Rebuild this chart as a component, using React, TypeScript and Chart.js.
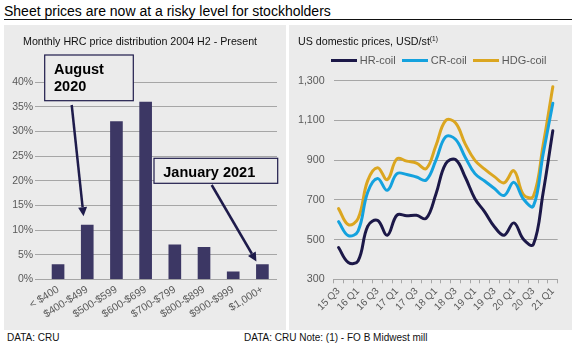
import React, { useEffect, useRef } from 'react';
import { Chart, registerables } from 'chart.js';

Chart.register(...registerables);

const FONT = '"Liberation Sans", Arial, Helvetica, sans-serif';
const TEXT_GREY = '#595959';
const GRID_GREY = '#a6a6a6';
const PANEL_BG = '#ebebeb';
const NAVY = '#1e1b4b';
const BAR_COLOR = '#3c3764';

const pageTitle = 'Sheet prices are now at a risky level for stockholders';
const leftTitle = 'Monthly HRC price distribution 2004 H2 - Present';
const rightTitle = 'US domestic prices, USD/st';
const rightTitleNote = '(1)';
const leftSource = 'DATA: CRU';
const rightSource = 'DATA: CRU Note: (1) - FO B Midwest mill';

// Left chart: share of months in each HRC price band
const priceBands = ['< $400', '$400-$499', '$500-$599', '$600-$699', '$700-$799', '$800-$899', '$900-$999', '$1,000+'];
const shareOfMonths = [3, 11, 32, 36, 7, 6.5, 1.5, 3];
const shareTicks = [0, 5, 10, 15, 20, 25, 30, 35, 40];
const calloutLabels = [['August', '2020'], ['January 2021']];
const calloutBands = [1, 7];

// Right chart: quarterly US domestic prices, USD/st
const quarters = [
  '15 Q3', '15 Q4',
  '16 Q1', '16 Q2', '16 Q3', '16 Q4',
  '17 Q1', '17 Q2', '17 Q3', '17 Q4',
  '18 Q1', '18 Q2', '18 Q3', '18 Q4',
  '19 Q1', '19 Q2', '19 Q3', '19 Q4',
  '20 Q1', '20 Q2', '20 Q3', '20 Q4',
  '21 Q1',
];
const hrCoil = [460, 385, 392, 568, 597, 522, 623, 620, 622, 607, 730, 882, 903, 815, 706, 640, 565, 522, 584, 500, 475, 735, 1048];
const crCoil = [590, 520, 543, 740, 808, 748, 832, 828, 815, 800, 900, 1018, 1005, 915, 832, 795, 757, 722, 788, 703, 668, 930, 1186];
const hdgCoil = [656, 575, 605, 798, 862, 802, 907, 895, 885, 857, 974, 1100, 1088, 982, 899, 855, 817, 786, 847, 725, 718, 975, 1270];
const priceTicks = [300, 500, 700, 900, 1100, 1300];
const seriesNames = ['HR-coil', 'CR-coil', 'HDG-coil'];
const seriesColors = ['#1c1848', '#14a2de', '#dba620'];

Chart.defaults.font.family = FONT;
Chart.defaults.color = TEXT_GREY;

function drawArrow(ctx: CanvasRenderingContext2D, x0: number, y0: number, x1: number, y1: number) {
  const ang = Math.atan2(y1 - y0, x1 - x0);
  const headLen = 9;
  const headW = 4.5;
  const bx = x1 - headLen * Math.cos(ang);
  const by = y1 - headLen * Math.sin(ang);
  ctx.beginPath();
  ctx.moveTo(x0, y0);
  ctx.lineTo(bx, by);
  ctx.stroke();
  ctx.beginPath();
  ctx.moveTo(x1, y1);
  ctx.lineTo(bx + headW * Math.sin(ang), by - headW * Math.cos(ang));
  ctx.lineTo(bx - headW * Math.sin(ang), by + headW * Math.cos(ang));
  ctx.closePath();
  ctx.fill();
}

const calloutPlugin = {
  id: 'callouts',
  afterDraw(chart: any) {
    const ctx: CanvasRenderingContext2D = chart.ctx;
    const xs = chart.scales.x;
    const ys = chart.scales.y;
    const layouts = [
      { box: [40.7, 30, 88.6, 45.7], textX: 50, baselines: [49, 65.7], from: [67.7, 80], dx: -3.7, dy: -9 },
      { box: [150, 133.3, 123.7, 25], textX: 159.3, baselines: [151.7], from: [207.7, 160], dx: -6, dy: -3 },
    ];
    ctx.save();
    layouts.forEach((l, i) => {
      const [bx, by, bw, bh] = l.box;
      ctx.fillStyle = PANEL_BG;
      ctx.fillRect(bx, by, bw, bh);
      ctx.strokeStyle = NAVY;
      ctx.lineWidth = 1.2;
      ctx.strokeRect(bx, by, bw, bh);
      ctx.fillStyle = '#000';
      ctx.font = `bold 14.5px ${FONT}`;
      ctx.textAlign = 'left';
      ctx.textBaseline = 'alphabetic';
      calloutLabels[i].forEach((t, j) => ctx.fillText(t, l.textX, l.baselines[j]));
      const band = calloutBands[i];
      const tipX = xs.getPixelForValue(band) + l.dx;
      const tipY = ys.getPixelForValue(shareOfMonths[band]) + l.dy;
      ctx.strokeStyle = NAVY;
      ctx.fillStyle = NAVY;
      ctx.lineWidth = 2.5;
      drawArrow(ctx, l.from[0], l.from[1], tipX, tipY);
    });
    ctx.restore();
  },
};

function DistributionChart() {
  const ref = useRef<HTMLCanvasElement>(null);
  useEffect(() => {
    const chart = new Chart(ref.current!, {
      type: 'bar',
      data: {
        datasets: [
          {
            data: shareOfMonths.map((v, i) => ({ x: i, y: v })),
            backgroundColor: BAR_COLOR,
            barThickness: 12,
          },
        ],
      },
      options: {
        responsive: false,
        animation: false,
        devicePixelRatio: 1,
        layout: { padding: { top: 57.3, right: 9, left: 0, bottom: 0 } },
        plugins: { legend: { display: false }, tooltip: { enabled: false } },
        scales: {
          x: {
            type: 'linear',
            min: -0.8,
            max: 7.5,
            offset: false,
            grid: { display: false, drawTicks: false },
            border: { display: false },
            afterBuildTicks: (s: any) => {
              s.ticks = priceBands.map((_, i) => ({ value: i }));
            },
            afterFit: (s: any) => {
              s.height = 50.7;
            },
            ticks: {
              autoSkip: false,
              minRotation: 32,
              maxRotation: 32,
              padding: 4,
              color: TEXT_GREY,
              font: { size: 10.5 },
              callback: (v: any) => priceBands[v] ?? '',
            },
          },
          y: {
            min: 0,
            max: 40,
            grid: { color: GRID_GREY, drawTicks: false, lineWidth: 1 },
            border: { display: false },
            afterBuildTicks: (s: any) => {
              s.ticks = shareTicks.map((v) => ({ value: v }));
            },
            afterFit: (s: any) => {
              s.width = 30.7;
            },
            ticks: {
              padding: 1.5,
              color: TEXT_GREY,
              font: { size: 10.5 },
              callback: (v: any) => `${v}%`,
            },
          },
        },
      } as any,
      plugins: [calloutPlugin],
    });
    return () => chart.destroy();
  }, []);
  return <canvas ref={ref} width={282} height={305} style={{ position: 'absolute', left: 0, top: 0, width: 282, height: 305 }} />;
}

function PriceChart() {
  const ref = useRef<HTMLCanvasElement>(null);
  useEffect(() => {
    const series = [hrCoil, crCoil, hdgCoil];
    const chart = new Chart(ref.current!, {
      type: 'line',
      data: {
        labels: quarters,
        datasets: seriesNames.map((name, i) => ({
          label: name,
          data: series[i],
          borderColor: seriesColors[i],
          backgroundColor: seriesColors[i],
          borderWidth: 3,
          pointRadius: 0,
          tension: 0.4,
          fill: false,
          borderCapStyle: 'round',
          borderJoinStyle: 'round',
        })),
      },
      options: {
        responsive: false,
        animation: false,
        devicePixelRatio: 1,
        layout: { padding: { top: 55.7, right: 14.3, left: 0, bottom: 0 } },
        plugins: { legend: { display: false }, tooltip: { enabled: false } },
        scales: {
          x: {
            offset: true,
            grid: { offset: true, drawOnChartArea: false, drawTicks: true, tickLength: 4, color: GRID_GREY },
            border: { display: true, color: GRID_GREY },
            afterFit: (s: any) => {
              s.height = 50.7;
            },
            ticks: {
              autoSkip: false,
              minRotation: 45,
              maxRotation: 45,
              padding: 2,
              color: TEXT_GREY,
              font: { size: 10 },
              callback: (_v: any, i: number) => (i % 2 === 0 ? quarters[i] : ''),
            },
          },
          y: {
            min: 300,
            max: 1300,
            grid: { color: GRID_GREY, drawTicks: false },
            border: { display: false },
            afterBuildTicks: (s: any) => {
              s.ticks = priceTicks.map((v) => ({ value: v }));
            },
            afterFit: (s: any) => {
              s.width = 44.7;
            },
            ticks: {
              padding: 9,
              color: TEXT_GREY,
              font: { size: 10.7 },
              callback: (v: any) => Number(v).toLocaleString('en-US'),
            },
          },
        },
      } as any,
    });
    return () => chart.destroy();
  }, []);
  return <canvas ref={ref} width={283} height={305} style={{ position: 'absolute', left: 0, top: 0, width: 283, height: 305 }} />;
}

export default function App() {
  const abs = (s: React.CSSProperties): React.CSSProperties => ({ position: 'absolute', lineHeight: 1, whiteSpace: 'nowrap', ...s });
  return (
    <div style={{ position: 'absolute', left: 0, top: 0, width: 572, height: 351, background: '#fff', fontFamily: FONT, overflow: 'hidden' }}>
      <div style={abs({ left: 4, top: 3.5, fontSize: 14, color: '#000' })}>{pageTitle}</div>
      <div style={abs({ left: 4, top: 19, width: 568, height: 1, background: '#111' })} />

      <div style={{ position: 'absolute', left: 4, top: 25, width: 282, height: 305, background: PANEL_BG }}>
        <DistributionChart />
        <div style={abs({ left: 19, top: 10.5, fontSize: 10.7, color: '#111' })}>{leftTitle}</div>
      </div>

      <div style={{ position: 'absolute', left: 289, top: 25, width: 283, height: 305, background: PANEL_BG }}>
        <PriceChart />
        <div style={abs({ left: 9, top: 10.5, fontSize: 10.7, color: '#111' })}>
          {rightTitle}
          <span style={{ fontSize: 6.5, position: 'relative', top: -4 }}>{rightTitleNote}</span>
        </div>
        <div style={{ position: 'absolute', left: 41.7, top: 29.5, height: 11, display: 'flex', alignItems: 'center', gap: 6 }}>
          {seriesNames.map((n, i) => (
            <div key={n} style={{ display: 'flex', alignItems: 'center', gap: 3 }}>
              <div style={{ width: 26, height: 3, background: seriesColors[i] }} />
              <span style={{ fontSize: 11, lineHeight: 1, color: TEXT_GREY }}>{n}</span>
            </div>
          ))}
        </div>
      </div>

      <div style={abs({ left: 7, top: 332.7, fontSize: 10, color: '#111' })}>{leftSource}</div>
      <div style={abs({ left: 244, top: 332.7, fontSize: 10, color: '#111' })}>{rightSource}</div>
    </div>
  );
}
